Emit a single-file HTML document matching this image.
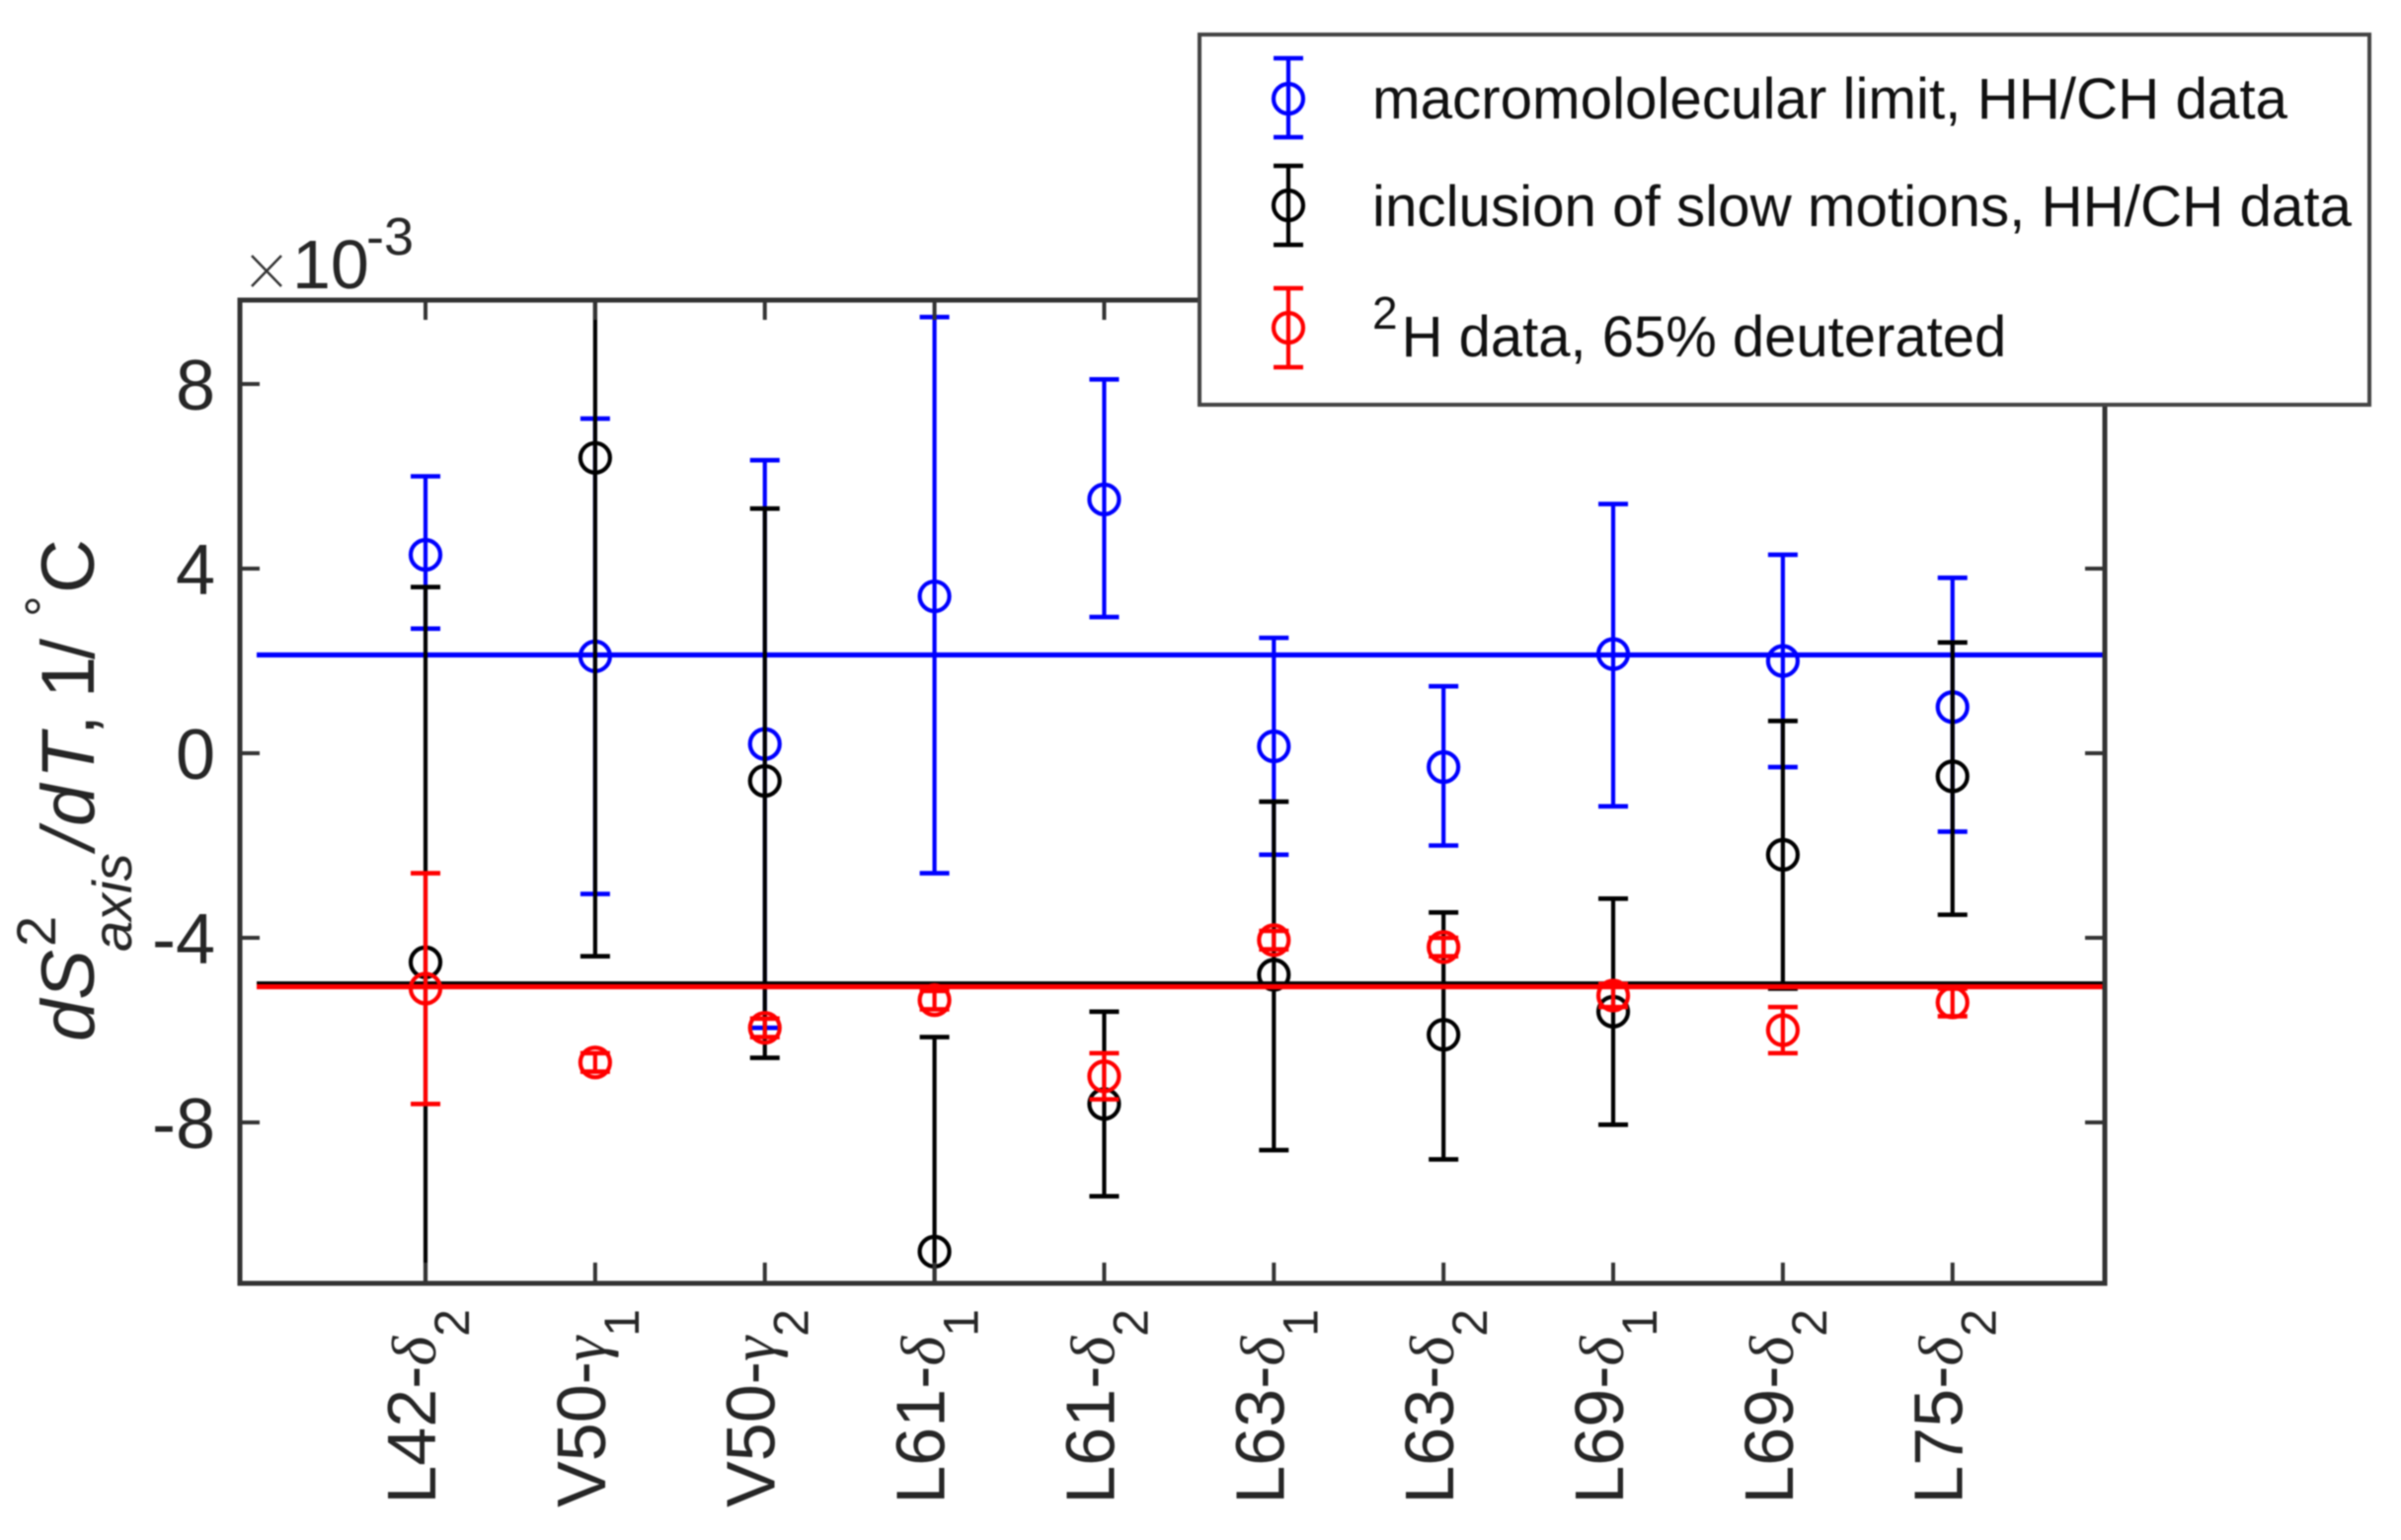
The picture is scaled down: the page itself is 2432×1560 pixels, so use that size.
<!DOCTYPE html>
<html>
<head>
<meta charset="utf-8">
<title>Temperature derivative of axis order parameters</title>
<style>
html,body{margin:0;padding:0;background:#fff;width:2432px;height:1560px;overflow:hidden}
svg{display:block;filter:blur(0.7px)}
text{font-family:"Liberation Sans",sans-serif}
.gk{font-family:"Liberation Serif",serif;font-style:italic}
</style>
</head>
<body>
<svg id="chart" xmlns="http://www.w3.org/2000/svg" width="2432" height="1560" viewBox="0 0 2432 1560">
  <defs><clipPath id="plot-clip"><rect x="243" y="304" width="1889" height="996"/></clipPath></defs>
  <rect x="0" y="0" width="2432" height="1560" fill="#fff"/>
  <g id="plot" clip-path="url(#plot-clip)"></g>
  <rect x="243" y="304" width="1889" height="996" fill="none" stroke="#333" stroke-width="5"/>
  <g id="ticks"></g>
  <g id="ylabels" font-size="72" fill="#262626" text-anchor="end"></g>
  <g id="xlabels" fill="#262626"></g>
  <g fill="#262626">
    <path d="M255 259L285 290M285 259L255 290" stroke="#333" stroke-width="2.5" fill="none"/>
    <text x="296" y="292" font-size="70">10</text>
    <text x="371" y="258" font-size="54">-3</text>
  </g>
  <g transform="translate(95,1055) rotate(-90)" font-size="76" fill="#262626">
    <text x="0" y="0" font-style="italic">dS</text>
    <text x="96" y="-39" font-size="56">2</text>
    <text x="91" y="38" font-size="56" font-style="italic">axis</text>
    <text x="194" y="0" font-style="italic">/</text>
    <text x="218" y="0" font-style="italic">d</text>
    <text x="266" y="0" font-style="italic">T</text>
    <text x="310" y="0">,</text>
    <text x="348" y="0">1</text>
    <text x="387" y="0">/</text>
    <text x="430" y="-32" font-size="54">°</text>
    <text x="454" y="0">C</text>
  </g>
  <g>
    <rect x="1215" y="35" width="1185" height="375" fill="#fff" stroke="#444" stroke-width="4"/>
    <g id="legend-marks"></g>
    <text x="1390" y="120" font-size="58" fill="#111" textLength="927" lengthAdjust="spacingAndGlyphs">macromololecular limit, HH/CH data</text>
    <text x="1390" y="229" font-size="58" fill="#111" textLength="992" lengthAdjust="spacingAndGlyphs">inclusion of slow motions, HH/CH data</text>
    <text x="1390" y="361" font-size="58" fill="#111"><tspan font-size="46" dy="-28">2</tspan><tspan dy="28" dx="4">H data, 65% deuterated</tspan></text>
  </g>
</svg>
<script>
const residues = ['L42-','V50-','V50-','L61-','L61-','L63-','L63-','L69-','L69-','L75-'];
const atoms = ['δ','γ','γ','δ','δ','δ','δ','δ','δ','δ'];
const atomSubs = ['2','1','2','1','2','1','2','1','2','2'];
const yTicks = [-8,-4,0,4,8];

const blueMean = [4.3,2.1,0.2,3.4,5.5,0.15,-0.3,2.15,2.0,1.0];
const blueHigh = [6.0,7.25,6.35,9.45,8.1,2.5,1.45,5.4,4.3,3.8];
const blueLow = [2.7,-3.05,-5.95,-2.6,2.95,-2.2,-2.0,-1.15,-0.3,-1.7];

const blackMean = [-4.53,6.4,-0.6,-10.8,-7.6,-4.8,-6.1,-5.6,-2.2,-0.5];
const blackHigh = [3.6,11.5,5.3,-6.15,-5.6,-1.05,-3.45,-3.15,0.7,2.4];
const blackLow = [-12.6,-4.4,-6.6,-15.0,-9.6,-8.6,-8.8,-8.05,-5.1,-3.5];

const redMean = [-5.1,-6.7,-5.95,-5.35,-7.0,-4.05,-4.2,-5.25,-6.0,-5.4];
const redHigh = [-2.6,-6.5,-5.75,-5.15,-6.5,-3.85,-4.0,-5.0,-5.5,-5.1];
const redLow = [-7.6,-6.9,-6.15,-5.55,-7.5,-4.25,-4.4,-5.5,-6.5,-5.7];

const blueAverage = [2.13];
const blackAverage = [-5.0];
const redAverage = [-5.06];

const NS = 'http://www.w3.org/2000/svg';
function xScale(i){ return 431 + 171.86 * i; }
function yScale(v){ return 763 - 46.75 * v; }
function mk(tag, attrs, parent){
  const el = document.createElementNS(NS, tag);
  for (const k in attrs) el.setAttribute(k, attrs[k]);
  parent.appendChild(el);
  return el;
}
function seg(parent, x1, y1, x2, y2, color, w, name){
  const el = mk('line', {x1:x1, y1:y1, x2:x2, y2:y2, stroke:color, 'stroke-width':w}, parent);
  
  
  return el;
}
function marker(parent, x, y, color, name){
  const el = mk('circle', {cx:x, cy:y, r:15, fill:'none', stroke:color, 'stroke-width':4.2}, parent);
  
  
  return el;
}
function errorbar(parent, x, yMean, yHigh, yLow, color, name){
  seg(parent, x, yHigh, x, yLow, color, 4.2, name + '-stem');
  seg(parent, x-15, yHigh, x+15, yHigh, color, 4.6, name + '-cap-high');
  seg(parent, x-15, yLow, x+15, yLow, color, 4.6, name + '-cap-low');
  marker(parent, x, yMean, color, name + '-marker');
}
function drawSeries(parent, means, highs, lows, color, name){
  means.forEach(function(m, i){
    errorbar(parent, xScale(i), yScale(m), yScale(highs[i]), yScale(lows[i]), color, name + '-' + i);
  });
}
function hline(parent, values, color, name){
  seg(parent, 260, yScale(values[0]), 2132, yScale(values[0]), color, 5.2, name);
}

const plot = document.getElementById('plot');
hline(plot, blueAverage, '#0000ff', 'blue-average-line');
drawSeries(plot, blueMean, blueHigh, blueLow, '#0000ff', 'blue-point');
drawSeries(plot, blackMean, blackHigh, blackLow, '#000000', 'black-point');
hline(plot, blackAverage, '#000000', 'black-average-line');
drawSeries(plot, redMean, redHigh, redLow, '#ff0000', 'red-point');
hline(plot, redAverage, '#ff0000', 'red-average-line');

const ticks = document.getElementById('ticks');
residues.forEach(function(r, i){
  seg(ticks, xScale(i), 1299, xScale(i), 1279, '#333', 4, 'x-tick-bottom');
  seg(ticks, xScale(i), 304, xScale(i), 324, '#333', 4, 'x-tick-top');
});
const ylabels = document.getElementById('ylabels');
yTicks.forEach(function(v){
  seg(ticks, 243, yScale(v), 263, yScale(v), '#333', 4, 'y-tick-left');
  seg(ticks, 2132, yScale(v), 2112, yScale(v), '#333', 4, 'y-tick-right');
  const t = mk('text', {x:218, y:yScale(v)+26}, ylabels);
  
  
  t.textContent = String(v);
});

const xlabels = document.getElementById('xlabels');
residues.forEach(function(r, i){
  const px = xScale(i) + 10;
  const t = mk('text', {transform:'translate(' + px + ',1326) rotate(-90)', 'text-anchor':'end', 'font-size':70}, xlabels);
  
  
  const a = mk('tspan', {}, t);
  a.textContent = r;
  const b = mk('tspan', {class:'gk', 'font-size':64}, t);
  b.textContent = atoms[i];
  const c = mk('tspan', {'font-size':50, dy:34}, t);
  c.textContent = atomSubs[i];
});

const legendMarks = document.getElementById('legend-marks');
errorbar(legendMarks, 1305, 100, 59, 139, '#0000ff', 'legend-marker-blue');
errorbar(legendMarks, 1305, 208, 168, 248, '#000000', 'legend-marker-black');
errorbar(legendMarks, 1305, 332, 292, 372, '#ff0000', 'legend-marker-red');
</script>
</body>
</html>
